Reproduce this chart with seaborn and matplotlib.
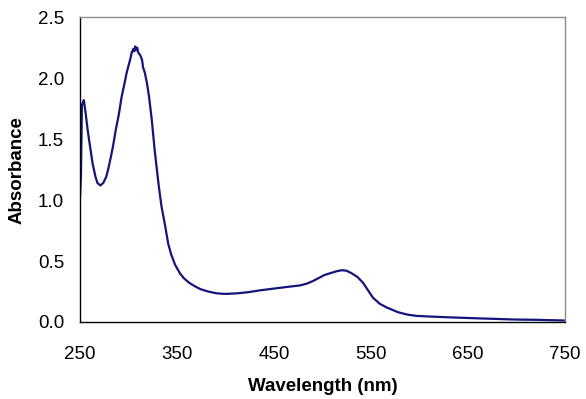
import pandas as pd
import seaborn as sns
import matplotlib.pyplot as plt

# absorbance spectrum
wavelength = [250, 251, 252, 253, 254, 255, 256, 258, 260, 263, 266, 268, 271, 274,
              277, 279, 282, 284, 287, 290, 293, 296, 298, 300, 302, 303, 305, 306,
              307, 308, 309, 310, 312, 314, 315, 317, 319, 321, 324, 327, 331, 334,
              338, 341, 344, 348, 353, 357, 362, 368, 374, 382, 391, 400, 412, 424,
              436, 446, 456, 466, 477, 484, 490, 496, 502, 508, 514, 520, 525, 530, 536,
              542, 547, 552, 559, 566, 572, 578, 588, 597, 610, 625, 642, 660, 680,
              700, 720, 735, 750]
absorbance = [1.02, 1.20, 1.78, 1.80, 1.82, 1.76, 1.70, 1.57, 1.46, 1.30, 1.19, 1.14, 1.12, 1.14,
              1.19, 1.25, 1.36, 1.44, 1.58, 1.70, 1.85, 1.96, 2.04, 2.10, 2.16, 2.20, 2.24, 2.22,
              2.26, 2.23, 2.25, 2.21, 2.19, 2.15, 2.09, 2.04, 1.96, 1.86, 1.66, 1.41, 1.13, 0.95,
              0.78, 0.64, 0.555, 0.47, 0.40, 0.36, 0.325, 0.295, 0.27, 0.25, 0.235, 0.23, 0.235, 0.245,
              0.26, 0.27, 0.28, 0.29, 0.30, 0.315, 0.335, 0.36, 0.385, 0.40, 0.415, 0.425, 0.42, 0.40, 0.37,
              0.32, 0.26, 0.20, 0.15, 0.12, 0.10, 0.08, 0.06, 0.05, 0.045, 0.04, 0.035, 0.03, 0.025,
              0.02, 0.018, 0.015, 0.012]

x_ticks = list(range(250, 751, 50))
x_labels = [str(t) if (t - 250) % 100 == 0 else "" for t in x_ticks]
y_ticks = [0.0, 0.5, 1.0, 1.5, 2.0, 2.5]

df = pd.DataFrame({"Wavelength": wavelength, "Absorbance": absorbance})

sns.set_style("white")
plt.rcParams['font.family'] = ['Liberation Sans', 'DejaVu Sans']
plt.rcParams['text.color'] = 'black'
plt.rcParams['axes.labelcolor'] = 'black'

fig = plt.figure(figsize=(5.86, 3.99), dpi=100)
ax = fig.add_axes([0.1365, 0.193, 0.8275, 0.764])

sns.lineplot(data=df, x="Wavelength", y="Absorbance", color="#14147a",
             linewidth=1.6, ax=ax)

ax.set_xlim(250, 750)
ax.set_ylim(0, 2.5)
ax.set_xticks(x_ticks)
ax.set_xticklabels(x_labels)
ax.set_yticks(y_ticks)
ax.set_yticklabels([f"{v:.1f}" for v in y_ticks])
ax.tick_params(axis="both", direction="out", length=5, width=1, colors="black",
               labelsize=13.5)
ax.tick_params(axis="y", pad=6.5)
ax.tick_params(axis="x", pad=12)

for side in ["left", "bottom"]:
    ax.spines[side].set_color("black")
    ax.spines[side].set_linewidth(1)
for side in ["top", "right"]:
    ax.spines[side].set_color("#8c8c8c")
    ax.spines[side].set_linewidth(1)

ax.set_xlabel("Wavelength (nm)", fontsize=13.5, fontweight="bold", labelpad=11)
ax.set_ylabel("Absorbance", fontsize=13.5, fontweight="bold", labelpad=9)

plt.savefig("out.png", dpi=100)
